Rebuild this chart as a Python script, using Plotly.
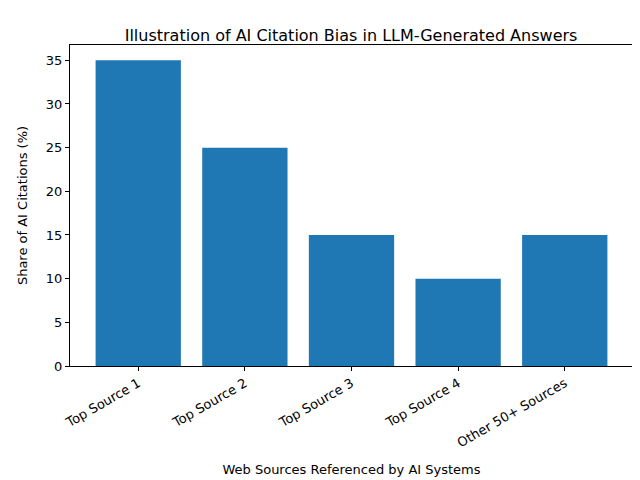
import plotly.graph_objects as go

sources = ["Top Source 1", "Top Source 2", "Top Source 3", "Top Source 4", "Other 50+ Sources"]
shares = [35, 25, 15, 10, 15]

fig = go.Figure(go.Bar(x=list(range(len(sources))), y=shares, width=0.8,
                       marker=dict(color="#1f77b4", line=dict(width=0))))

axis_common = dict(showgrid=False, zeroline=False, showline=True, linecolor="black",
                   mirror=True, ticks="outside", ticklen=4, tickcolor="black",
                   automargin=False, tickfont=dict(size=13, color="black"))
fig.update_xaxes(range=[-0.64, 4.64], tickvals=list(range(len(sources))), ticktext=sources,
                 tickangle=-30, title=dict(text="Web Sources Referenced by AI Systems",
                                           font=dict(size=13, color="black")), **axis_common)
fig.update_yaxes(range=[0, 36.75], tickvals=[0, 5, 10, 15, 20, 25, 30, 35],
                 title=dict(text="Share of AI Citations (%)", font=dict(size=13, color="black")),
                 **axis_common)
fig.update_layout(
    width=640, height=480,
    title=dict(text="Illustration of AI Citation Bias in LLM-Generated Answers",
               x=0.536, xanchor="center", y=0.955, font=dict(size=16, color="black")),
    font=dict(family="DejaVu Sans"),
    plot_bgcolor="white", paper_bgcolor="white",
    margin=dict(l=62, r=15, t=37, b=122),
    showlegend=False,
)
fig.write_html("out.html")
